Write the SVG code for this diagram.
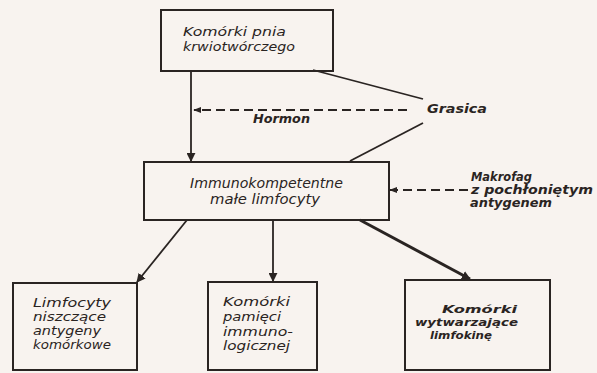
<svg xmlns="http://www.w3.org/2000/svg" width="597" height="373" viewBox="0 0 597 373">
<defs>
<marker id="ah" viewBox="0 0 10 10" refX="9" refY="5" markerWidth="9" markerHeight="9" markerUnits="userSpaceOnUse" orient="auto">
<path d="M0,0 L10,5 L0,10 Z" fill="#2a2422"/>
</marker>
<marker id="ahs" viewBox="0 0 10 10" refX="9" refY="5" markerWidth="8" markerHeight="8" markerUnits="userSpaceOnUse" orient="auto">
<path d="M0,1 L10,5 L0,9 Z" fill="#2a2422"/>
</marker>
</defs>
<style>
.bg{fill:#f8f3ef}
.box{fill:none;stroke:#2a2422;stroke-width:2}
.ln{fill:none;stroke:#2a2422;stroke-width:1.8}
.thick{stroke-width:3}
.dash{fill:none;stroke:#2a2422;stroke-width:2;stroke-dasharray:9 5}
text{font-family:"DejaVu Sans","Liberation Sans",sans-serif;font-style:italic;fill:#2a2422;font-size:12px}
.b{font-weight:bold}
.big{font-size:14px}
.sm{font-size:10.5px}
</style>
<rect class="bg" x="0" y="0" width="597" height="373"/>
<g id="connectors">
<line class="ln" x1="191" y1="71" x2="191" y2="161" marker-end="url(#ah)"/>
<line class="ln" x1="313" y1="70" x2="423" y2="99"/>
<line class="dash" x1="407" y1="110" x2="194" y2="110" marker-end="url(#ahs)"/>
<line class="ln" x1="423" y1="123" x2="350" y2="161"/>
<line class="dash" x1="468" y1="190" x2="390" y2="190" marker-end="url(#ahs)"/>
<line class="ln" x1="187" y1="220" x2="137" y2="282" marker-end="url(#ah)"/>
<line class="ln" x1="273" y1="220" x2="273" y2="281" marker-end="url(#ah)"/>
<line class="ln thick" x1="360" y1="220" x2="470" y2="279" marker-end="url(#ah)"/>
</g>
<g id="stem">
<rect class="box" x="161" y="10" width="172" height="61"/>
<text x="183" y="36" textLength="103" lengthAdjust="spacingAndGlyphs">Komórki pnia</text>
<text x="183" y="51" textLength="112" lengthAdjust="spacingAndGlyphs">krwiotwórczego</text>
</g>
<g id="grasica">
<text class="b" x="427" y="113" textLength="60" lengthAdjust="spacingAndGlyphs">Grasica</text>
</g>
<g id="hormon">
<text class="b" x="253" y="123" textLength="57" lengthAdjust="spacingAndGlyphs">Hormon</text>
</g>
<g id="lymph">
<rect class="box" x="144" y="162" width="245" height="58"/>
<text class="big" x="190" y="188" textLength="153" lengthAdjust="spacingAndGlyphs">Immunokompetentne</text>
<text class="big" x="210" y="204" textLength="110" lengthAdjust="spacingAndGlyphs">małe limfocyty</text>
</g>
<g id="makrofag">
<text class="b" x="471" y="181" textLength="61" lengthAdjust="spacingAndGlyphs">Makrofag</text>
<text class="b" x="471" y="194" textLength="122" lengthAdjust="spacingAndGlyphs">z pochłoniętym</text>
<text class="b" x="470" y="207" textLength="82" lengthAdjust="spacingAndGlyphs">antygenem</text>
</g>
<g id="killer">
<rect class="box" x="13" y="283" width="124" height="87"/>
<text x="33" y="307" textLength="78" lengthAdjust="spacingAndGlyphs">Limfocyty</text>
<text x="33" y="321" textLength="73" lengthAdjust="spacingAndGlyphs">niszczące</text>
<text x="33" y="335" textLength="68" lengthAdjust="spacingAndGlyphs">antygeny</text>
<text x="33" y="349" textLength="78" lengthAdjust="spacingAndGlyphs">komórkowe</text>
</g>
<g id="memory">
<rect class="box" x="208" y="282" width="109" height="88"/>
<text x="223" y="306" textLength="67" lengthAdjust="spacingAndGlyphs">Komórki</text>
<text x="223" y="321" textLength="58" lengthAdjust="spacingAndGlyphs">pamięci</text>
<text x="223" y="336" textLength="70" lengthAdjust="spacingAndGlyphs">immuno-</text>
<text x="223" y="350" textLength="67" lengthAdjust="spacingAndGlyphs">logicznej</text>
</g>
<g id="lymphokine">
<rect class="box" x="405" y="280" width="145" height="90"/>
<text class="b sm" x="442" y="313" textLength="75" lengthAdjust="spacingAndGlyphs">Komórki</text>
<text class="b sm" x="415" y="326" textLength="103" lengthAdjust="spacingAndGlyphs">wytwarzające</text>
<text class="b sm" x="430" y="339" textLength="62" lengthAdjust="spacingAndGlyphs">limfokinę</text>
</g>
</svg>
